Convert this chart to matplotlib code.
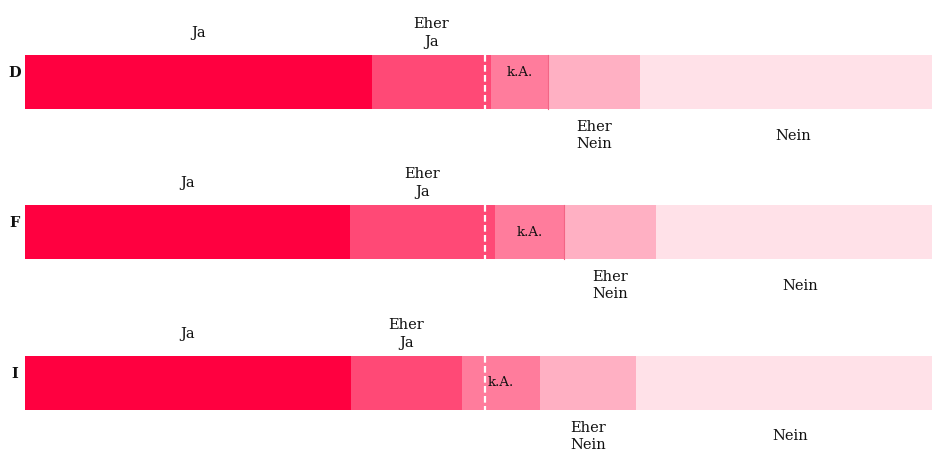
import matplotlib
matplotlib.use("Agg")
import matplotlib.pyplot as plt
import numpy as np

countries = ["D", "F", "I"]
categories = ["Ja", "Eher Ja", "k.A.", "Eher Nein", "Nein"]
cat_labels = ["Ja", "Eher\nJa", "k.A.", "Eher\nNein", "Nein"]
values = {
    "D": [37.7, 12.9, 6.3, 10.0, 33.1],
    "F": [35.3, 15.8, 7.5, 10.0, 31.4],
    "I": [35.4, 12.1, 8.5, 10.4, 33.6],
}
colors = ["#FF0040", "#FF4976", "#FF7C9C", "#FFB0C3", "#FFE1E8"]

W, H = 932, 455
fig = plt.figure(figsize=(W / 100, H / 100), dpi=100)
left_px, right_px = 25, 945
ax = fig.add_axes([left_px / W, 0, (right_px - left_px) / W, 1])
ax.set_xlim(0, 100)
ax.set_ylim(H, 0)
ax.axis("off")

bar_centers = [82, 232, 383]
bar_h = 54
font = dict(family="DejaVu Serif", fontsize=10.5, color="#111111")

for c, yc in zip(countries, bar_centers):
    vals = values[c]
    lefts = np.concatenate([[0], np.cumsum(vals)[:-1]])
    for i, (v, l) in enumerate(zip(vals, lefts)):
        ax.barh(yc, v, left=l, height=bar_h, color=colors[i],
                linewidth=0, clip_on=False)
        xc = l + v / 2
        if i in (0, 1):
            ax.text(xc, yc - bar_h / 2 - 22, cat_labels[i], ha="center",
                    va="center", linespacing=1.3, **font)
        elif i == 2:
            dy = -9 if c == "D" else 0
            ax.text(xc, yc + dy, cat_labels[i], ha="center", va="center",
                    family="DejaVu Serif", fontsize=9.5, color="#111111")
            if c != "I":
                ax.plot([l + v, l + v], [yc - bar_h / 2, yc + bar_h / 2],
                        color="#F26585", lw=0.8)
        else:
            ax.text(xc, yc + bar_h / 2 + 26.5, cat_labels[i], ha="center",
                    va="center", linespacing=1.3, **font)
    # 50% dashed marker
    ax.plot([50, 50], [yc - bar_h / 2, yc + bar_h / 2], color="white",
            lw=1.6, linestyle=(0, (3.0, 1.5)), solid_capstyle="butt")
    fig.text(15 / W, 1 - (yc - 9) / H, c, ha="center", va="center",
             family="DejaVu Serif", fontsize=10.5, fontweight="bold",
             color="#111111")

fig.savefig("out.png", dpi=100, facecolor="white")
